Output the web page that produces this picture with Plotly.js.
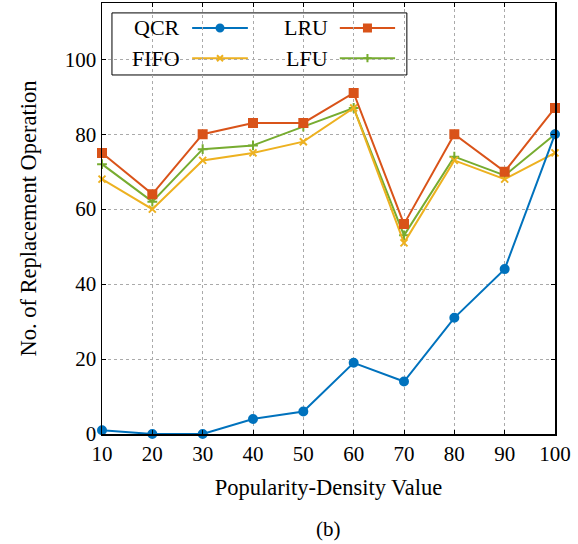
<!DOCTYPE html>
<html>
<head>
<meta charset="utf-8">
<script src="https://cdn.plot.ly/plotly-3.0.1.min.js"></script>
<style>html,body{margin:0;padding:0;background:#fff;}#chart{width:578px;height:544px;}</style>
</head>
<body>
<div id="chart"></div>
<script>
const xValues = [10, 20, 30, 40, 50, 60, 70, 80, 90, 100];
const qcr  = [1, 0, 0, 4, 6, 19, 14, 31, 44, 80];
const lru  = [75, 64, 80, 83, 83, 91, 56, 80, 70, 87];
const fifo = [68, 60, 73, 75, 78, 87, 51, 73, 68, 75];
const lfu  = [72, 62, 76, 77, 82, 87, 53, 74, 69, 80];
const seriesNames = ['QCR', 'LRU', 'FIFO', 'LFU'];
const xTicks = [10, 20, 30, 40, 50, 60, 70, 80, 90, 100];
const yTicks = [0, 20, 40, 60, 80, 100];

const colors = {QCR: '#0072BD', LRU: '#D95319', FIFO: '#EDB120', LFU: '#77AC30'};
const symbols = {QCR: 'circle', LRU: 'square', FIFO: 'x-thin-open', LFU: 'cross-thin-open'};
const msizes = {QCR: 8, LRU: 8, FIFO: 7, LFU: 7};
const dataMap = {QCR: qcr, LRU: lru, FIFO: fifo, LFU: lfu};
const font = 'Liberation Serif, Times New Roman, serif';

const order = ['LFU', 'FIFO', 'LRU', 'QCR'];
const traces = order.map(n => ({
  type: 'scatter', mode: 'lines+markers', name: n,
  x: xValues, y: dataMap[n],
  line: {color: colors[n], width: 2},
  marker: {color: colors[n], symbol: symbols[n], size: msizes[n],
           line: {color: colors[n], width: 2}},
  cliponaxis: false, showlegend: false
}));

const legendRows = [
  {name: 'QCR', tx: 0.177, lx0: 0.199, lx1: 0.322, y: 0.942},
  {name: 'LRU', tx: 0.503, lx0: 0.525, lx1: 0.647, y: 0.942},
  {name: 'FIFO', tx: 0.177, lx0: 0.199, lx1: 0.322, y: 0.872},
  {name: 'LFU', tx: 0.503, lx0: 0.525, lx1: 0.647, y: 0.872}
];
const shapes = [{
  type: 'rect', xref: 'paper', yref: 'paper', x0: 0.022, x1: 0.673, y0: 0.833, y1: 0.977,
  line: {color: '#000', width: 1}, fillcolor: '#fff', layer: 'between'
}];
const annotations = [];
legendRows.forEach(r => {
  shapes.push({type: 'line', xref: 'paper', yref: 'paper', x0: r.lx0, x1: r.lx1, y0: r.y, y1: r.y,
    line: {color: colors[r.name], width: 2}, layer: 'between'});
  annotations.push({xref: 'paper', yref: 'paper', x: r.tx, y: r.y, xanchor: 'right', yanchor: 'middle',
    text: r.name, showarrow: false, font: {family: font, size: 22, color: '#000'}});
  traces.push({type: 'scatter', mode: 'markers', xaxis: 'x2', yaxis: 'y2',
    x: [(r.lx0 + r.lx1) / 2], y: [r.y], showlegend: false, hoverinfo: 'skip',
    marker: {color: colors[r.name], symbol: symbols[r.name], size: msizes[r.name] - 1,
             line: {color: colors[r.name], width: 2}}});
});
annotations.push({xref: 'paper', yref: 'paper', x: 0.5, y: -0.220, xanchor: 'center', yanchor: 'middle',
  text: '(b)', showarrow: false, font: {family: font, size: 21, color: '#000'}});

const layout = {
  width: 578, height: 544,
  margin: {l: 102, r: 23, t: 3, b: 110},
  paper_bgcolor: '#fff', plot_bgcolor: '#fff',
  font: {family: font, size: 21, color: '#000'},
  showlegend: false,
  xaxis: {
    range: [10, 100], tickvals: xTicks, ticktext: xTicks.map(String),
    showgrid: true, gridcolor: '#aaa', griddash: 'dot', gridwidth: 1,
    showline: true, linecolor: '#000', linewidth: 1.5, mirror: 'ticks',
    ticks: 'inside', ticklen: 4, tickcolor: '#000', zeroline: false,
    tickfont: {family: font, size: 21},
    title: {text: 'Popularity-Density Value', font: {family: font, size: 22.5}, standoff: 14}
  },
  yaxis: {
    range: [0, 115], tickvals: yTicks, ticktext: yTicks.map(String),
    showgrid: true, gridcolor: '#aaa', griddash: 'dot', gridwidth: 1,
    showline: true, linecolor: '#000', linewidth: 1.5, mirror: 'ticks',
    ticks: 'inside', ticklen: 4, tickcolor: '#000', zeroline: false,
    tickfont: {family: font, size: 21},
    title: {text: 'No. of Replacement Operation', font: {family: font, size: 22.5}, standoff: 22}
  },
  xaxis2: {range: [0, 1], overlaying: 'x', visible: false, anchor: 'y2'},
  yaxis2: {range: [0, 1], overlaying: 'y', visible: false, anchor: 'x2'},
  shapes: shapes,
  annotations: annotations
};

Plotly.newPlot('chart', traces, layout, {staticPlot: true, displayModeBar: false});
</script>
</body>
</html>
